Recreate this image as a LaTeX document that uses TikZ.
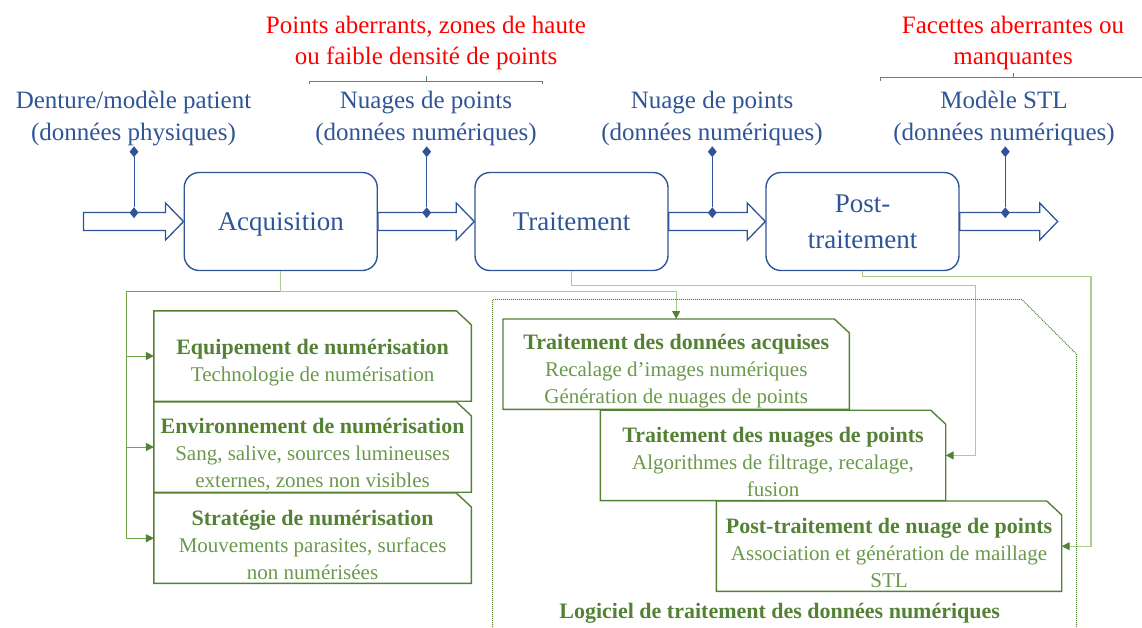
\documentclass[tikz,border=0pt]{standalone}
\usepackage{fontspec}
\setmainfont{Liberation Serif}
\usepackage{tikz}
\usetikzlibrary{arrows.meta,positioning,calc,shapes.geometric}
\definecolor{flowblue}{RGB}{47,85,151}
\definecolor{errred}{RGB}{255,0,0}
\definecolor{boxgreen}{RGB}{84,130,53}
\definecolor{txtgreen}{RGB}{106,153,75}
\definecolor{linkgreen}{RGB}{112,165,75}
\definecolor{linklight}{RGB}{169,205,145}
\definecolor{bracegray}{RGB}{120,120,120}
\newcommand{\boxhead}[1]{\textcolor{boxgreen}{\fontsize{22}{27}\selectfont\bfseries #1}}

\begin{document}
\begin{tikzpicture}[x=1pt, y=-1pt,
  >={Triangle[length=8pt, width=8pt, color=boxgreen]},
  stage/.style={draw=flowblue, line width=1.4pt, rounded corners=15pt,
    minimum width=193pt, minimum height=98pt, text=flowblue,
    align=center, font=\fontsize{27}{36}\selectfont},
  io/.style={text=flowblue, align=center, font=\fontsize{25}{31.5}\selectfont},
  warn/.style={text=errred, align=center, font=\fontsize{25}{31}\selectfont},
  dmd/.style={diamond, fill=flowblue, inner sep=0pt,
    minimum width=9pt, minimum height=11pt},
  tie/.style={draw=flowblue, line width=0.8pt},
  hollow/.style={draw=flowblue, line width=1.3pt, fill=white},
  brace/.style={draw=bracegray, line width=1pt},
  gbox/.style={minimum width=#1, minimum height=90pt, inner sep=0pt},
  gtext/.style={align=center, text=txtgreen, inner sep=0pt,
    font=\fontsize{21}{27}\selectfont},
  gedge/.style={draw=boxgreen, line width=1.4pt},
  feed/.style={->, draw=linkgreen, line width=1pt},
  feedl/.style={->, draw=linklight, line width=1.2pt},
  frame/.style={draw=boxgreen, densely dotted, line width=1pt},
]
\useasboundingbox (0,0) rectangle (1142,627);
% stages
\node[stage, text depth=0pt] (acq) at (280.75,221.5) {Acquisition};
\node[stage] (trt) at (571.5,221.5) {Traitement};
\node[stage] (post) at (862.5,221.5) {Post-\\traitement};
% flow ends
\coordinate (in) at (83.4,221.5);
\coordinate (out) at (1057.7,221.5);
% hollow arrows
\foreach \a/\b in {in/acq.west, acq.east/trt.west, trt.east/post.west,
    post.east/out} {
  \draw[hollow] ([yshift=9pt]\a) -- ([xshift=-18pt,yshift=9pt]\b)
    -- ([xshift=-18pt,yshift=18.5pt]\b) -- (\b)
    -- ([xshift=-18pt,yshift=-18.5pt]\b) -- ([xshift=-18pt,yshift=-9pt]\b)
    -- ([yshift=-9pt]\a) -- cycle;
}
% data pins
\foreach \n/\x in {1/134, 2/426.7, 3/712.3, 4/1005.3} {
  \node[dmd] (pt\n) at (\x,151.7) {};
  \node[dmd] (pb\n) at (\x,212.7) {};
  \draw[tie] (pt\n) -- (pb\n);
}
% data labels
\node[io] (lphys) at (133.5,118.5) {Denture/modèle patient\\(données physiques)};
\node[io] (lnps) at (426,118.5) {Nuages de points\\(données numériques)};
\node[io] (lnp) at (712,118.5) {Nuage de points\\(données numériques)};
\node[io] (lstl) at (1004,118.5) {Modèle STL\\(données numériques)};
% defects
\node[warn] (wpts) at (426,42.5) {Points aberrants, zones de haute\\ou faible densité de points};
\node[warn] (wfac) at (1013,42.5) {Facettes aberrantes ou\\manquantes};
\draw[brace] (309,83.5) -- (309,81) -- (542.7,81) -- (542.7,83.5);
\draw[brace] (426,81) -- (426,76);
\draw[brace] (880.7,80.5) -- (880.7,77.7) -- (1142,77.7);
\draw[brace] (1013,77.7) -- (1013,72.5);
% factor boxes
\foreach \n/\x/\y/\w in {eq/312.6/356/317, env/312.6/447/317,
    str/312.6/538.2/317, tda/676.2/364.2/346, tnp/773/455.4/345,
    ptn/889/546.2/345} {
  \node[gbox=\w pt] (\n) at (\x,\y) {};
  \draw[gedge] (\n.south west) -- (\n.north west)
    -- ([xshift=-15pt]\n.north east) -- ([yshift=-14pt]\n.north east)
    -- (\n.south east) -- cycle;
}
% factor texts
\node[gtext] (eqt) at ([yshift=-7pt]eq.center) {\boxhead{Equipement de numérisation}\\Technologie de numérisation};
\node[gtext] (envt) at ([yshift=-7pt]env.center) {\boxhead{Environnement de numérisation}\\Sang, salive, sources lumineuses\\externes, zones non visibles};
\node[gtext] (strt) at ([yshift=-7pt]str.center) {\boxhead{Stratégie de numérisation}\\Mouvements parasites, surfaces\\non numérisées};
\node[gtext] (tdat) at ([yshift=-7pt]tda.center) {\boxhead{Traitement des données acquises}\\Recalage d’images numériques\\Génération de nuages de points};
\node[gtext] (tnpt) at ([yshift=-7pt]tnp.center) {\boxhead{Traitement des nuages de points}\\Algorithmes de filtrage, recalage,\\fusion};
\node[gtext] (ptnt) at ([yshift=-7pt]ptn.center) {\boxhead{Post-traitement de nuage de points}\\Association et génération de maillage\\STL};
% links
\coordinate (split) at (126,291);
\draw[feed] (acq.south) |- (split) |- (eq.west);
\draw[feed] (split) |- (env.west);
\draw[feed] (split) |- (str.west);
\draw[feedl] (acq.south) -- ++(0,20.3) -| (tda.north);
\draw[feedl] (trt.south) -- ++(0,14) -| ([xshift=29.4pt]tnp.east) -- (tnp.east);
\draw[feedl] (post.south) -- ++(0,5.3) -| ([xshift=29.3pt]ptn.east) -- (ptn.east);
% software
\draw[frame] (492.7,627) -- (492.7,299.3) -- (1021.7,299.3) -- (1076.6,354.3) -- (1076.6,627);
\node[text=boxgreen, font=\fontsize{22}{27}\selectfont\bfseries] (soft) at (779.7,613) {Logiciel de traitement des données numériques};
\end{tikzpicture}
\end{document}
